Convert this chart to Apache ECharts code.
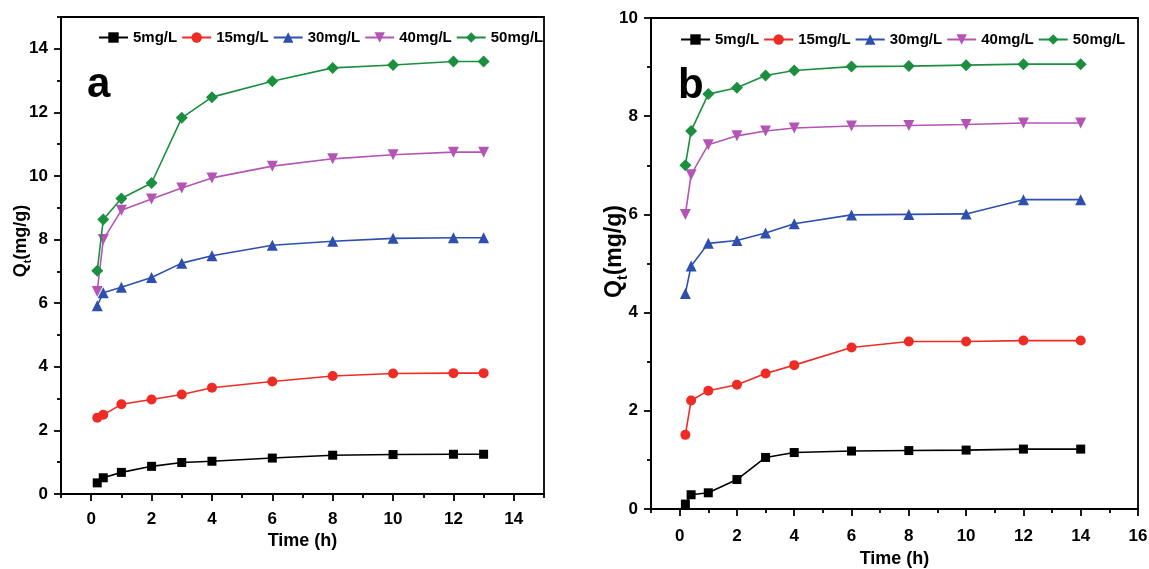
<!DOCTYPE html>
<html>
<head>
<meta charset="utf-8">
<script src="https://cdn.jsdelivr.net/npm/echarts@6/dist/echarts.min.js"></script>
<style>
html,body{margin:0;padding:0;background:#fff;}
#chart{width:1149px;height:569px;}
</style>
</head>
<body>
<div id="chart"></div>
<script>
// ---------- data ----------
var seriesNames = ['5mg/L', '15mg/L', '30mg/L', '40mg/L', '50mg/L'];

// panel a
var timesA = [0.2, 0.4, 1, 2, 3, 4, 6, 8, 10, 12, 13];
var a5  = [0.35, 0.51, 0.68, 0.87, 0.99, 1.03, 1.13, 1.22, 1.24, 1.25, 1.25];
var a15 = [2.40, 2.49, 2.82, 2.97, 3.13, 3.34, 3.54, 3.71, 3.79, 3.80, 3.80];
var a30 = [5.92, 6.33, 6.50, 6.81, 7.26, 7.49, 7.82, 7.95, 8.04, 8.06, 8.06];
var a40 = [6.37, 8.00, 8.92, 9.28, 9.62, 9.94, 10.31, 10.54, 10.67, 10.75, 10.75];
var a50 = [7.02, 8.63, 9.29, 9.78, 11.83, 12.48, 12.98, 13.40, 13.49, 13.60, 13.60];

// panel b
var timesB = [0.2, 0.4, 1, 2, 3, 4, 6, 8, 10, 12, 14];
var b5  = [0.10, 0.29, 0.33, 0.60, 1.05, 1.15, 1.18, 1.19, 1.20, 1.22, 1.22];
var b15 = [1.51, 2.21, 2.41, 2.53, 2.76, 2.93, 3.29, 3.41, 3.41, 3.43, 3.43];
var b30 = [4.39, 4.95, 5.41, 5.47, 5.62, 5.81, 5.99, 6.00, 6.01, 6.30, 6.30];
var b40 = [6.00, 6.81, 7.42, 7.60, 7.70, 7.76, 7.80, 7.81, 7.83, 7.86, 7.86];
var b50 = [7.00, 7.70, 8.45, 8.58, 8.83, 8.93, 9.01, 9.02, 9.04, 9.06, 9.06];

// ticks
var xMajorA = [0, 2, 4, 6, 8, 10, 12, 14];
var xMinorA = [-1, 1, 3, 5, 7, 9, 11, 13, 15];
var yMajorA = [0, 2, 4, 6, 8, 10, 12, 14];
var yMinorA = [1, 3, 5, 7, 9, 11, 13, 15];
var xMajorB = [0, 2, 4, 6, 8, 10, 12, 14, 16];
var xMinorB = [-1, 1, 3, 5, 7, 9, 11, 13, 15];
var yMajorB = [0, 2, 4, 6, 8, 10];
var yMinorB = [1, 3, 5, 7, 9];

// ---------- styling ----------
var FONT = "'Liberation Sans', Arial, sans-serif";
var colors = ['#000000', '#ee2b24', '#2f4fae', '#b455b6', '#1b8f3f'];
var symbols = ['rect', 'circle', 'triangle', 'triangle', 'diamond'];
var symbolSizes = [9, 10, 11, 11, 12];
var symbolRotates = [0, 0, 0, 180, 0];

function mainX(grid, lo, hi, major, margin, gap) {
  return {
    type: 'value', gridIndex: grid, min: lo, max: hi, position: 'bottom',
    name: 'Time (h)', nameLocation: 'middle', nameGap: gap, nameMoveOverlap: false,
    nameTextStyle: { fontSize: 18, fontWeight: 'bold', color: '#000', fontFamily: FONT },
    axisLine: { show: true, onZero: false, lineStyle: { color: '#000', width: 1.8 } },
    axisTick: { show: true, inside: false, length: 7, customValues: major, lineStyle: { color: '#000', width: 1.8 } },
    axisLabel: { show: true, customValues: major, margin: margin, fontSize: 17, fontWeight: 'bold', color: '#000', fontFamily: FONT },
    splitLine: { show: false }
  };
}
function minorX(grid, lo, hi, minor) {
  return {
    type: 'value', gridIndex: grid, min: lo, max: hi, position: 'bottom', offset: 0,
    axisLine: { show: false, onZero: false },
    axisTick: { show: true, inside: false, length: 4, customValues: minor, lineStyle: { color: '#000', width: 1.8 } },
    axisLabel: { show: false },
    splitLine: { show: false }
  };
}
function mainY(grid, lo, hi, major, gap, fs, shift) {
  return {
    type: 'value', gridIndex: grid, min: lo, max: hi, position: 'left',
    name: '{q|Q}{s|t}{q|(mg/g)}', nameLocation: 'middle', nameGap: gap, nameMoveOverlap: false,
    nameTextStyle: {
      fontSize: fs, fontWeight: 'bold', color: '#000', fontFamily: FONT,
      padding: [0, 0, 0, shift],
      rich: {
        q: { fontSize: fs, fontWeight: 'bold', color: '#000', fontFamily: FONT, lineHeight: Math.round(fs * 1.33), verticalAlign: 'middle' },
        s: { fontSize: Math.round(fs * 0.62), fontWeight: 'bold', color: '#000', fontFamily: FONT, lineHeight: Math.round(fs * 0.62), verticalAlign: 'bottom' }
      }
    },
    axisLine: { show: true, onZero: false, lineStyle: { color: '#000', width: 1.8 } },
    axisTick: { show: true, inside: false, length: 7, customValues: major, lineStyle: { color: '#000', width: 1.8 } },
    axisLabel: { show: true, customValues: major, margin: 13, fontSize: 17, fontWeight: 'bold', color: '#000', fontFamily: FONT },
    splitLine: { show: false }
  };
}
function minorY(grid, lo, hi, minor) {
  return {
    type: 'value', gridIndex: grid, min: lo, max: hi, position: 'left', offset: 0,
    axisLine: { show: false, onZero: false },
    axisTick: { show: true, inside: false, length: 4, customValues: minor, lineStyle: { color: '#000', width: 1.8 } },
    axisLabel: { show: false },
    splitLine: { show: false }
  };
}

function buildSeries(times, arrays, axisIdx) {
  return arrays.map(function (vals, i) {
    return {
      name: seriesNames[i], type: 'line',
      xAxisIndex: axisIdx, yAxisIndex: axisIdx,
      data: times.map(function (t, k) { return [t, vals[k]]; }),
      symbol: symbols[i], symbolSize: symbolSizes[i], symbolRotate: symbolRotates[i],
      lineStyle: { color: colors[i], width: 1.6 },
      itemStyle: { color: colors[i] },
      emphasis: { disabled: true },
      z: 2 + i
    };
  });
}

function legendAt(left, top) {
  return {
    left: left, top: top, orient: 'horizontal', padding: 0,
    itemWidth: 29, itemHeight: 13, itemGap: 4,
    data: seriesNames,
    textStyle: { fontSize: 15, fontWeight: 'bold', color: '#000', fontFamily: FONT },
    selectedMode: false
  };
}

var chart = echarts.init(document.getElementById('chart'), null, { renderer: 'canvas' });
chart.setOption({
  animation: false,
  backgroundColor: '#fff',
  textStyle: { fontFamily: FONT },
  grid: [
    { left: 61, top: 17, width: 483, height: 477, show: true, borderColor: '#000', borderWidth: 1.8, backgroundColor: 'transparent', containLabel: false, outerBoundsMode: 'none' },
    { left: 651, top: 18, width: 487, height: 491, show: true, borderColor: '#000', borderWidth: 1.8, backgroundColor: 'transparent', containLabel: false, outerBoundsMode: 'none' }
  ],
  legend: [legendAt(98, 30), legendAt(680, 32)],
  xAxis: [
    mainX(0, -1, 15, xMajorA, 17, 38), minorX(0, -1, 15, xMinorA),
    mainX(1, -1, 16, xMajorB, 19, 41), minorX(1, -1, 16, xMinorB)
  ],
  yAxis: [
    mainY(0, 0, 15, yMajorA, 28, 18, 29), minorY(0, 0, 15, yMinorA),
    mainY(1, 0, 10, yMajorB, 21, 23, 24), minorY(1, 0, 10, yMinorB)
  ],
  graphic: [
    { type: 'text', left: 87, top: 64, style: { text: 'a', font: "bold 42px 'Liberation Sans', Arial, sans-serif", fill: '#000' } },
    { type: 'text', left: 678, top: 65, style: { text: 'b', font: "bold 42px 'Liberation Sans', Arial, sans-serif", fill: '#000' } }
  ],
  series: buildSeries(timesA, [a5, a15, a30, a40, a50], 0)
    .concat(buildSeries(timesB, [b5, b15, b30, b40, b50], 2))
});
</script>
</body>
</html>
